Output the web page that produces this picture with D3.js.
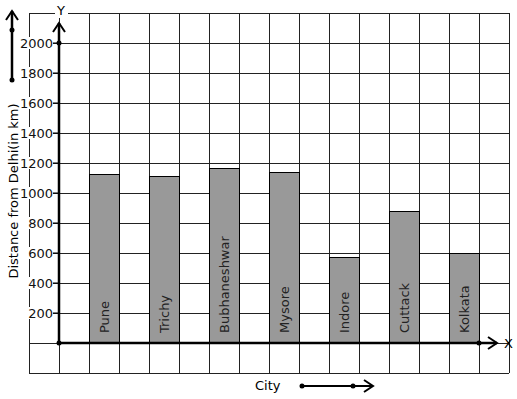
<!DOCTYPE html>
<html>
<head>
<meta charset="utf-8">
<script src="https://cdn.jsdelivr.net/npm/d3@7"></script>
<style>
  body { margin: 0; background: #fff; }
  text { font-family: "DejaVu Sans", sans-serif; font-size: 13px; }
</style>
</head>
<body>
<script>
var cities = ['Pune', 'Trichy', 'Bubhaneshwar', 'Mysore', 'Indore', 'Cuttack', 'Kolkata'];
var distances = [1125, 1110, 1165, 1140, 570, 880, 595];
var yTicks = [200, 400, 600, 800, 1000, 1200, 1400, 1600, 1800, 2000];

var width = 517;
var height = 399;

var svg = d3.select('body').append('svg')
  .attr('width', width)
  .attr('height', height);

// grid is 16 x 12 cells of 30px, bars sit in every other column
var gridX = d3.scaleLinear().domain([0, 16]).range([29, 509]);
var x = d3.scaleBand().domain(cities).range([89, 509]);
var y = d3.scaleLinear().domain([-200, 2200]).range([373, 13]);

var grid = svg.append('g')
  .attr('stroke', '#222')
  .attr('stroke-width', 1)
  .attr('shape-rendering', 'crispEdges');

grid.selectAll('.vline')
  .data(d3.range(0, 17))
  .enter().append('line')
    .attr('class', 'vline')
    .attr('x1', gridX).attr('x2', gridX)
    .attr('y1', y(2200)).attr('y2', y(-200));

grid.selectAll('.hline')
  .data(d3.range(-200, 2201, 200))
  .enter().append('line')
    .attr('class', 'hline')
    .attr('x1', gridX(0)).attr('x2', gridX(16))
    .attr('y1', y).attr('y2', y);

// bars
svg.selectAll('.bar')
  .data(distances)
  .enter().append('rect')
    .attr('class', 'bar')
    .attr('x', function(d, i) { return x(cities[i]); })
    .attr('width', x.bandwidth() / 2)
    .attr('y', y)
    .attr('height', function(d) { return y(0) - y(d); })
    .attr('fill', '#999')
    .attr('stroke', '#000')
    .attr('stroke-width', 1)
    .attr('shape-rendering', 'crispEdges');

svg.selectAll('.bar-label')
  .data(cities)
  .enter().append('text')
    .attr('class', 'bar-label')
    .attr('transform', function(d) {
      return 'translate(' + (x(d) + x.bandwidth() / 4 + 5) + ',' + (y(0) - 10) + ') rotate(-90)';
    })
    .attr('fill', '#222')
    .text(function(d) { return d; });

// y tick labels with white backing over the grid
var ticks = svg.selectAll('.tick')
  .data(yTicks)
  .enter().append('g')
    .attr('class', 'tick')
    .attr('transform', function(d) { return 'translate(0,' + y(d) + ')'; });

ticks.append('rect')
  .attr('x', 21).attr('y', -6)
  .attr('width', 32).attr('height', 12)
  .attr('fill', '#fff');

ticks.append('text')
  .attr('x', 53)
  .attr('dy', '0.36em')
  .attr('text-anchor', 'end')
  .attr('fill', '#111')
  .text(function(d) { return d; });

ticks.append('line')
  .attr('x1', 53).attr('x2', 59)
  .attr('stroke', '#000');

function arrowHead(g, tipX, tipY, dir) {
  // dir: 'up' or 'right'
  var p = dir === 'up'
    ? [[tipX - 6, tipY + 9], [tipX, tipY], [tipX + 6, tipY + 9]]
    : [[tipX - 9, tipY - 6], [tipX, tipY], [tipX - 9, tipY + 6]];
  g.append('path')
    .attr('d', d3.line()(p))
    .attr('fill', 'none')
    .attr('stroke', '#000')
    .attr('stroke-width', 2);
}

var axes = svg.append('g');

// y axis
axes.append('line')
  .attr('x1', 59).attr('x2', 59)
  .attr('y1', y(0)).attr('y2', 23)
  .attr('stroke', '#000').attr('stroke-width', 2.5);
arrowHead(axes, 59, 23, 'up');
axes.append('circle').attr('cx', 59).attr('cy', y(2000)).attr('r', 2.5);

// x axis
axes.append('line')
  .attr('x1', 59).attr('x2', 497)
  .attr('y1', y(0)).attr('y2', y(0))
  .attr('stroke', '#000').attr('stroke-width', 2.5);
arrowHead(axes, 497, y(0), 'right');
axes.append('circle').attr('cx', 59).attr('cy', y(0)).attr('r', 2.5);
axes.append('circle').attr('cx', gridX(15)).attr('cy', y(0)).attr('r', 2.5);

svg.append('rect').attr('x', 55).attr('y', 4).attr('width', 13).attr('height', 14).attr('fill', '#fff');
svg.append('text')
  .attr('x', 61).attr('y', 15)
  .attr('text-anchor', 'middle')
  .text('Y');

svg.append('text')
  .attr('x', 504).attr('y', 348)
  .text('X');

// axis titles
svg.append('text')
  .attr('transform', 'translate(18,' + 191 + ') rotate(-90)')
  .attr('text-anchor', 'middle')
  .text('Distance from Delhi(in km)');

svg.append('text')
  .attr('x', 255).attr('y', 390)
  .text('City');

// decorative arrows
var deco = svg.append('g');
deco.append('line')
  .attr('x1', 12).attr('x2', 12).attr('y1', 80).attr('y2', 11)
  .attr('stroke', '#000').attr('stroke-width', 2.5);
arrowHead(deco, 12, 11, 'up');
deco.append('circle').attr('cx', 12).attr('cy', 30).attr('r', 2.5);
deco.append('circle').attr('cx', 12).attr('cy', 80).attr('r', 2.5);

deco.append('line')
  .attr('x1', 302).attr('x2', 372).attr('y1', 386).attr('y2', 386)
  .attr('stroke', '#000').attr('stroke-width', 2);
arrowHead(deco, 373, 386, 'right');
deco.append('circle').attr('cx', 302).attr('cy', 386).attr('r', 2.5);
deco.append('circle').attr('cx', 353).attr('cy', 386).attr('r', 2.5);
</script>
</body>
</html>
